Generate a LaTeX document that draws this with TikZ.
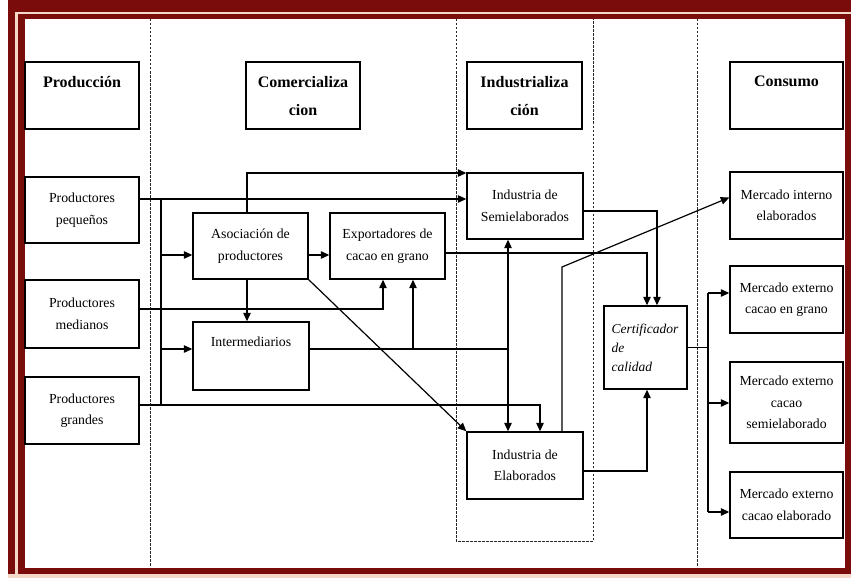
\documentclass[tikz,border=0pt]{standalone}
\usepackage{fontspec}
\setmainfont{Liberation Serif}
\usetikzlibrary{arrows.meta}

\definecolor{framered}{HTML}{7A0C0C}
\definecolor{framepink}{HTML}{F4D8C8}

% body and heading type
\newcommand{\cbody}{\fontsize{13.8}{21.5}\selectfont}
\newcommand{\chead}{\fontsize{16}{28}\selectfont\bfseries}
% text hung from the top of a box: height, width, gap above, text
\newcommand{\toptext}[4]{\parbox[c][#1][t]{#2}{\centering\vspace*{#3}#4}}

\tikzset{
  box/.style={draw, line width=1.4pt, inner sep=0pt, align=center, font=\cbody},
  headbox/.style={box, font=\chead},
  conn/.style={line width=1.2pt},
  arr/.style={conn, -{Triangle[length=8.5pt,width=7.5pt]}},
  darr/.style={conn, {Triangle[length=8.5pt,width=7.5pt]}-{Triangle[length=8.5pt,width=7.5pt]}},
  sep/.style={line width=0.9pt, black!85, dash pattern=on 2.5pt off 1.5pt}
}

\begin{document}
\begin{tikzpicture}[x=1pt, y=-1pt]
\useasboundingbox (0,0) rectangle (851,578);

% page frame
\fill[white] (0,0) rectangle (851,578);
\fill[framered] (8,0) rectangle (851,574);
\fill[framepink] (15,12) rectangle (851,14.5);
\fill[framepink] (15,12) rectangle (17.5,574);
\fill[white] (24.5,19) rectangle (845,567.5);
\fill[framepink] (8,574) rectangle (851,578);

% stage separators
\draw[sep] (150,19) -- (150,567);
\draw[sep] (697,19) -- (697,567);
\draw[sep] (456,19) -- (456,541) -- (593,541) -- (593,19);

% stage headings
\node[headbox] (prod) at (82,95.5)  {\toptext{67pt}{114pt}{14pt}{Producción}};
\node[headbox] (com)  at (303,95.5) {\toptext{67pt}{114pt}{14pt}{Comercializa\\cion}};
\node[headbox] (ind)  at (524.5,95.5) {\toptext{67pt}{115pt}{14pt}{Industrializa\\ción}};
\node[headbox] (cons) at (786.5,95.5) {\toptext{67pt}{113pt}{14pt}{Consumo}};

% producers
\node[box, minimum width=114pt, minimum height=66pt] (peq) at (82,210)   {Productores\\pequeños};
\node[box, minimum width=114pt, minimum height=68pt] (med) at (82,314)   {Productores\\medianos};
\node[box, minimum width=114pt, minimum height=67pt] (gra) at (82,410.5) {Productores\\grandes};

% trade
\node[box, minimum width=115pt, minimum height=66pt] (aso) at (250.5,246) {Asociación de\\productores};
\node[box, minimum width=115pt, minimum height=66pt] (exp) at (387.5,246) {Exportadores de\\cacao en grano};
\node[box] (inter) at (251,356) {\toptext{68pt}{116pt}{14.5pt}{Intermediarios}};

% industry
\node[box, minimum width=116pt, minimum height=66pt] (semi) at (525,206)   {Industria de\\Semielaborados};
\node[box, minimum width=116pt, minimum height=67pt] (elab) at (525,465.5) {Industria de\\Elaborados};
\node[box, minimum width=83pt, minimum height=83pt, text width=68pt, align=left,
      font=\fontsize{13.5}{19}\selectfont\itshape] (cert) at (645.5,347.5) {Certificador\\de\\calidad};

% markets
\node[box, minimum width=113pt, minimum height=67pt] (mi)  at (786.5,205.5) {Mercado interno\\elaborados};
\node[box, minimum width=113pt, minimum height=67pt] (meg) at (786.5,299.5) {Mercado externo\\cacao en grano};
\node[box, minimum width=113pt, minimum height=81pt] (mes) at (786.5,402.5) {Mercado externo\\cacao\\semielaborado};
\node[box, minimum width=113pt, minimum height=66pt] (mee) at (786.5,505)   {Mercado externo\\cacao elaborado};

% bend points
\coordinate (b1) at (161,199);
\coordinate (b2) at (161,405);
\coordinate (r1) at (161,255);
\coordinate (r2) at (161,349);
\coordinate (t1) at (247,173);
\coordinate (m1) at (383,309);
\coordinate (g1) at (540,405);
\coordinate (i1) at (508,349);
\coordinate (i2) at (413,349);
\coordinate (c1) at (647,253);
\coordinate (c2) at (657,211);
\coordinate (c3) at (647,471);
\coordinate (e1) at (562,267);
\coordinate (k1) at (708,293);
\coordinate (k2) at (708,403);
\coordinate (k3) at (708,512);

% producers to trade and industry
\draw[arr] (peq.east |- b1) -- (semi.west |- b1);
\draw[conn] (b1) -- (b2);
\draw[arr] (med.east |- m1) -- (m1) -- (m1 |- exp.south);
\draw[arr] (gra.east |- g1) -- (g1) -- (g1 |- elab.north);
\draw[arr] (r1) -- (r1 -| aso.west);
\draw[arr] (r2) -- (r2 -| inter.west);

% association of producers
\draw[arr] (aso.east |- r1) -- (exp.west |- r1);
\draw[arr] (aso.north -| t1) -- (t1) -- (t1 -| semi.west);
\draw[arr] (aso.south -| t1) -- (inter.north -| t1);
\draw[arr] (aso.south east) -- (elab.north west);

% intermediaries
\draw[conn] (inter.east |- i1) -- (i1);
\draw[arr] (i2) -- (i2 |- exp.south);
\draw[darr] (i1 |- semi.south) -- (i1 |- elab.north);

% towards the quality certifier
\draw[arr] (exp.east |- c1) -- (c1) -- (c1 |- cert.north);
\draw[arr] (semi.east |- c2) -- (c2) -- (c2 |- cert.north);
\draw[arr] (elab.east |- c3) -- (c3) -- (c3 |- cert.south);

% finished goods to the home market
\draw[arr] (e1 |- elab.north) -- (e1) -- ([yshift=8pt]mi.west);

% certifier to export markets
\draw[conn] (cert.east) -- (cert.east -| k1);
\draw[conn] (k1) -- (k3);
\draw[arr] (k1) -- (k1 -| meg.west);
\draw[arr] (k2) -- (k2 -| mes.west);
\draw[arr] (k3) -- (k3 -| mee.west);

\end{tikzpicture}
\end{document}
